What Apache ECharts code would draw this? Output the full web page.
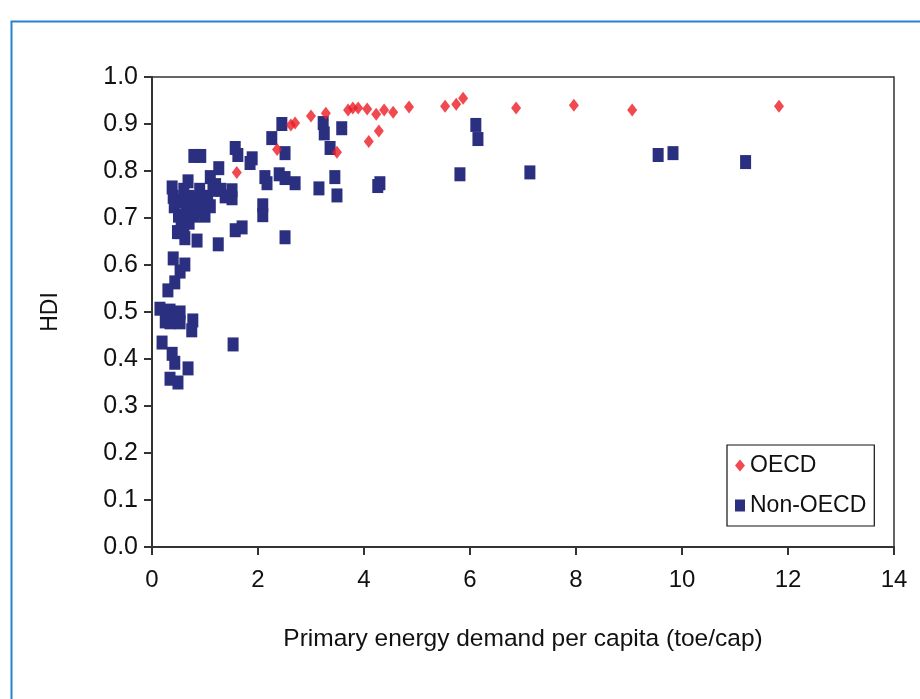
<!DOCTYPE html>
<html><head><meta charset="utf-8">
<script src="https://cdn.jsdelivr.net/npm/echarts@6/dist/echarts.min.js"></script>
<style>html,body{margin:0;padding:0;background:#fff}#c{width:920px;height:699px}</style>
</head><body><div id="c"></div>
<script>
const xTicks = [0, 2, 4, 6, 8, 10, 12, 14];
const yTicks = [0, 0.1, 0.2, 0.3, 0.4, 0.5, 0.6, 0.7, 0.8, 0.9, 1.0];
const seriesNames = ['OECD', 'Non-OECD'];
const oecd = [
  [1.60,0.797],[2.36,0.846],[2.62,0.898],[2.70,0.902],[3.00,0.917],[3.28,0.923],[3.49,0.840],
  [3.70,0.930],[3.79,0.934],[3.89,0.934],[4.06,0.932],[4.23,0.921],[4.38,0.930],[4.55,0.925],
  [4.85,0.936],[4.28,0.885],[4.09,0.863],[5.53,0.938],[5.74,0.942],[5.87,0.955],[6.87,0.934],
  [7.96,0.940],[9.06,0.930],[11.83,0.938]
];
const nonOecd = [
  [6.11,0.898],[6.15,0.868],[5.81,0.793],[7.13,0.797],[9.55,0.834],[9.83,0.838],[11.20,0.819],
  [2.45,0.900],[2.26,0.870],[2.51,0.838],[1.57,0.849],[1.62,0.834],[1.89,0.827],[1.85,0.817],
  [3.23,0.902],[3.25,0.880],[3.36,0.849],[3.58,0.891],[2.13,0.787],[2.17,0.774],[2.40,0.793],
  [2.51,0.785],[2.70,0.774],[3.15,0.763],[3.45,0.787],[3.49,0.748],[4.30,0.774],[4.26,0.768],
  [1.51,0.759],[1.51,0.742],[2.09,0.727],[2.09,0.706],[1.70,0.680],[2.51,0.659],
  [0.79,0.832],[0.92,0.832],
  [0.38,0.765],[0.40,0.745],[0.42,0.725],[0.55,0.735],[0.60,0.760],[0.68,0.778],[0.70,0.745],
  [0.75,0.725],[0.85,0.740],[0.90,0.760],[0.95,0.735],[1.05,0.745],[1.10,0.787],[1.15,0.760],
  [1.20,0.770],[1.26,0.806],[1.30,0.760],[1.38,0.746],[0.50,0.705],[0.55,0.690],[0.60,0.680],
  [0.48,0.670],[0.65,0.715],[0.80,0.705],[0.90,0.715],[1.00,0.705],[1.10,0.725],[0.53,0.670],
  [0.70,0.690],[0.62,0.657],[0.85,0.652],[1.25,0.644],[1.57,0.674],
  [0.40,0.614],[0.62,0.601],[0.53,0.586],[0.43,0.563],[0.30,0.546],
  [0.15,0.507],[0.34,0.503],[0.53,0.499],[0.34,0.478],[0.53,0.478],[0.77,0.482],[0.75,0.461],
  [0.25,0.480],[0.19,0.435],[1.53,0.431],[0.38,0.411],[0.43,0.392],[0.68,0.380],[0.34,0.358],[0.49,0.350]
];
const xTitle = 'Primary energy demand per capita (toe/cap)';
const yTitle = 'HDI';

const FONT = '"Liberation Sans", Arial, sans-serif';
const chart = echarts.init(document.getElementById('c'), null, {renderer: 'canvas'});
chart.setOption({
  animation: false,
  backgroundColor: '#fff',
  graphic: [{
    type: 'rect', left: 9, top: 19, shape: {width: 1000, height: 1000},
    style: {fill: 'none', stroke: '#2482cf', lineWidth: 2}, silent: true
  }],
  grid: {left: 152, right: 26, top: 77, bottom: 152, show: true, borderColor: '#333', borderWidth: 1.5, containLabel: false},
  legend: {
    data: [{name: seriesNames[0], icon: 'diamond'}, {name: seriesNames[1], icon: 'rect'}],
    orient: 'vertical', left: 727, top: 445, itemWidth: 10, itemHeight: 12, itemGap: 17,
    padding: [9, 8, 9, 8], borderColor: '#111', borderWidth: 1.2, backgroundColor: '#fff',
    textStyle: {fontFamily: FONT, fontSize: 23, color: '#111'}
  },
  xAxis: {
    type: 'value', min: 0, max: 14, interval: 2,
    name: xTitle, nameLocation: 'middle', nameGap: 80,
    nameTextStyle: {fontFamily: FONT, fontSize: 24.5, color: '#111'},
    axisLine: {show: true, lineStyle: {color: '#333', width: 2}},
    axisTick: {show: true, inside: false, length: 8, lineStyle: {color: '#333', width: 2}},
    axisLabel: {fontFamily: FONT, fontSize: 24, color: '#111', margin: 21, formatter: v => String(v)},
    splitLine: {show: false}
  },
  yAxis: {
    type: 'value', min: 0, max: 1, interval: 0.1,
    name: yTitle, nameLocation: 'middle', nameGap: 90,
    nameTextStyle: {fontFamily: FONT, fontSize: 23, color: '#111'},
    axisLine: {show: true, lineStyle: {color: '#333', width: 2}},
    axisTick: {show: true, inside: false, length: 8, lineStyle: {color: '#333', width: 2}},
    axisLabel: {fontFamily: FONT, fontSize: 25, color: '#111', margin: 14, formatter: v => v.toFixed(1)},
    splitLine: {show: false}
  },
  series: [
    {name: seriesNames[0], type: 'scatter', symbol: 'diamond', symbolSize: [10, 13],
     itemStyle: {color: '#ec1c24'}, data: oecd, z: 3},
    {name: seriesNames[1], type: 'scatter', symbol: 'rect', symbolSize: [11, 14],
     itemStyle: {color: '#2b2f80', opacity: 1}, data: nonOecd, z: 2}
  ]
});
</script></body></html>
